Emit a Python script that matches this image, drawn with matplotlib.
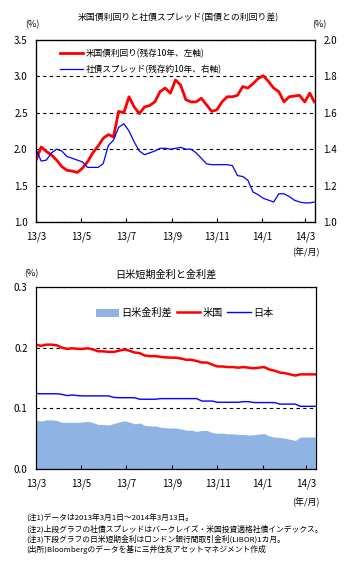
import numpy as np
import pandas as pd
import matplotlib
matplotlib.use('Agg')
import matplotlib.pyplot as plt
from matplotlib.lines import Line2D

plt.rcParams['font.family'] = ['Noto Sans CJK JP', 'DejaVu Sans']

# weekly readings, 2013/3/1 .. 2014/3/13
dates = list(pd.date_range('2013-03-01', periods=54, freq='7D')) + [pd.Timestamp('2014-03-13')]

us10y = [1.85, 2.03, 1.97, 1.92, 1.85, 1.76, 1.71, 1.70, 1.68, 1.74,
         1.83, 1.95, 2.04, 2.15, 2.20, 2.17, 2.52, 2.50, 2.72, 2.58,
         2.49, 2.58, 2.60, 2.65, 2.79, 2.84, 2.77, 2.95, 2.88, 2.68,
         2.65, 2.65, 2.70, 2.61, 2.52, 2.54, 2.65, 2.72, 2.72, 2.74,
         2.86, 2.84, 2.90, 2.97, 3.01, 2.93, 2.84, 2.79, 2.65, 2.72,
         2.73, 2.74, 2.65, 2.77, 2.65]

spread = [1.40, 1.335, 1.34, 1.38, 1.40, 1.39, 1.36, 1.35, 1.34, 1.33,
          1.30, 1.30, 1.30, 1.32, 1.42, 1.45, 1.52, 1.54, 1.50, 1.44,
          1.39, 1.37, 1.38, 1.39, 1.405, 1.405, 1.40, 1.405, 1.41, 1.40,
          1.40, 1.38, 1.35, 1.32, 1.315, 1.315, 1.315, 1.315, 1.31, 1.255,
          1.25, 1.23, 1.165, 1.15, 1.13, 1.12, 1.11, 1.155, 1.155, 1.14,
          1.12, 1.11, 1.105, 1.105, 1.11]

libor_us = [0.205, 0.203, 0.205, 0.205, 0.204, 0.200, 0.198, 0.199, 0.198, 0.198,
            0.199, 0.197, 0.194, 0.194, 0.193, 0.193, 0.195, 0.197, 0.195, 0.192,
            0.191, 0.187, 0.186, 0.186, 0.185, 0.184, 0.1835, 0.1835, 0.182, 0.180,
            0.180, 0.178, 0.1755, 0.1755, 0.172, 0.169, 0.169, 0.168, 0.168, 0.167,
            0.168, 0.167, 0.166, 0.167, 0.168, 0.164, 0.162, 0.159, 0.158, 0.156,
            0.154, 0.156, 0.156, 0.156, 0.156]

libor_jp = [0.1245, 0.124, 0.124, 0.124, 0.124, 0.123, 0.121, 0.122, 0.121, 0.1205,
            0.1205, 0.1205, 0.1205, 0.1205, 0.1205, 0.118, 0.1175, 0.1175, 0.1175, 0.1175,
            0.115, 0.115, 0.115, 0.115, 0.116, 0.116, 0.116, 0.116, 0.116, 0.116,
            0.116, 0.116, 0.112, 0.112, 0.112, 0.110, 0.110, 0.110, 0.110, 0.110,
            0.111, 0.111, 0.1095, 0.1095, 0.1095, 0.1095, 0.1095, 0.107, 0.107, 0.107,
            0.107, 0.1033, 0.1033, 0.1033, 0.1033]

tick_dates = pd.to_datetime(['2013-03-01', '2013-05-01', '2013-07-01', '2013-09-01',
                             '2013-11-01', '2014-01-01', '2014-03-01'])
tick_labels = ['13/3', '13/5', '13/7', '13/9', '13/11', '14/1', '14/3']

notes = [
    '(注1)データは2013年3月1日～2014年3月13日。',
    '(注2)上段グラフの社債スプレッドはバークレイズ・米国投資適格社債インデックス。',
    '(注3)下段グラフの日米短期金利はロンドン銀行間取引金利(LIBOR)1カ月。',
    '(出所)Bloombergのデータを基に三井住友アセットマネジメント作成',
]

W, H = 356, 580
RED = '#ff0000'
BLUE = '#0000ff'
FILL = '#8fb4e3'
xlim = (pd.Timestamp('2013-03-01'), pd.Timestamp('2014-03-14'))


def px(x, y):
    return x / W, 1 - y / H


def style_axis(ax):
    ax.set_xlim(*xlim)
    ax.set_xticks(tick_dates)
    ax.set_xticklabels(tick_labels, fontsize=7)
    ax.tick_params(axis='x', direction='in', length=3, width=0.8, pad=7)
    ax.tick_params(axis='y', length=0, labelsize=7, pad=6)
    ax.yaxis.grid(True, linestyle=(0, (3, 3)), color='black', linewidth=0.8)
    for s in ax.spines.values():
        s.set_linewidth(0.9)


fig = plt.figure(figsize=(W / 100, H / 100), dpi=100)

# ---- top chart
ax1 = fig.add_axes([36 / W, 1 - 222 / H, 279 / W, 182 / H])
style_axis(ax1)
ax1.set_ylim(1.0, 3.5)
ax1.set_yticks(np.arange(1.0, 3.51, 0.5))
ax1.set_yticklabels(['%.1f' % v for v in np.arange(1.0, 3.51, 0.5)])
ax1.plot(dates, us10y, color=RED, linewidth=2.0, zorder=3)

ax2 = ax1.twinx()
ax2.set_ylim(1.0, 2.0)
ax2.set_yticks(np.arange(1.0, 2.01, 0.2))
ax2.set_yticklabels(['%.1f' % v for v in np.arange(1.0, 2.01, 0.2)])
ax2.tick_params(axis='y', length=0, labelsize=7, pad=6)
ax2.plot(dates, spread, color=BLUE, linewidth=0.9)

handles = [Line2D([], [], color=RED, linewidth=2.0),
           Line2D([], [], color=BLUE, linewidth=0.9)]
ax2.legend(handles, ['米国債利回り(残存10年、左軸)', '社債スプレッド(残存約10年、右軸)'],
           loc='upper left', bbox_to_anchor=(0.065, 0.985), frameon=False,
           fontsize=6.2, handlelength=2.6, handletextpad=0.4, labelspacing=0.8,
           borderaxespad=0.3)

fig.text(*px(178, 18), '米国債利回りと社債スプレッド(国債との利回り差)',
         ha='center', va='center', fontsize=6.4)
fig.text(*px(32, 25), '(%)', ha='center', va='center', fontsize=6.5)
fig.text(*px(319, 25), '(%)', ha='center', va='center', fontsize=6.5)
fig.text(*px(306, 252), '(年/月)', ha='center', va='center', fontsize=6.5)

# ---- bottom chart
ax3 = fig.add_axes([36 / W, 1 - 469 / H, 280 / W, 182 / H])
style_axis(ax3)
ax3.set_ylim(0.0, 0.3)
ax3.set_yticks([0.0, 0.1, 0.2, 0.3])
ax3.set_yticklabels(['0.0', '0.1', '0.2', '0.3'])
gap = np.array(libor_us) - np.array(libor_jp)
ax3.fill_between(dates, 0, gap, color=FILL, linewidth=0, label='日米金利差')
ax3.plot(dates, libor_us, color=RED, linewidth=1.8, label='米国')
ax3.plot(dates, libor_jp, color=BLUE, linewidth=1.0, label='日本')
ax3.legend(loc='center', bbox_to_anchor=(0.53, 0.857), ncol=3, frameon=False,
           fontsize=7.3, handlelength=2.3, handletextpad=0.2, columnspacing=0.5,
           handleheight=0.8)

fig.text(*px(166, 275), '日米短期金利と金利差', ha='center', va='center', fontsize=7.3)
fig.text(*px(31, 274), '(%)', ha='center', va='center', fontsize=6.5)
fig.text(*px(306, 502), '(年/月)', ha='center', va='center', fontsize=6.5)

for i, line in enumerate(notes):
    fig.text(*px(26, 519 + 10 * i), line, ha='left', va='center', fontsize=5.6)

fig.savefig('out.png', dpi=100)
